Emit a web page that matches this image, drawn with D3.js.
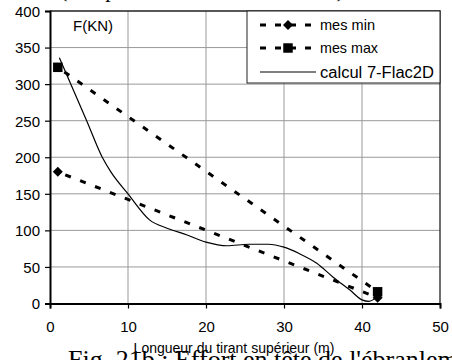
<!DOCTYPE html>
<html><head><meta charset="utf-8">
<script src="https://cdn.jsdelivr.net/npm/d3@7"></script>
<style>body{margin:0;background:#fff}svg{display:block}</style>
</head><body>
<svg id="c" width="452" height="360"></svg>
<script>
const xTicks = [0,10,20,30,40,50];
const yTicks = [0,50,100,150,200,250,300,350,400];
const mesMinX = [1, 42];
const mesMinY = [180, 8];
const mesMaxX = [1, 42];
const mesMaxY = [323, 16];
const calcX = [1.2, 4.7, 6.7, 7.8, 10, 12.8, 15, 17.5, 20, 22.7, 25.5, 28, 30, 32, 34.2, 36.3, 38.5, 40, 40.9, 41.8];
const calcY = [336, 250, 200, 180, 150, 114, 103, 94, 84, 79, 81, 81, 77, 68, 55, 36, 18, 5, 3, 8];
const seriesNames = ["mes min", "mes max", "calcul 7-Flac2D"];

const svg = d3.select("#c");
const L = 50, R = 440, T = 11, B = 303.5;
const x = d3.scaleLinear().domain([0,50]).range([L,R]);
const y = d3.scaleLinear().domain([0,400]).range([B,T]);
const font = "'Liberation Sans', Arial, sans-serif";

// grid
svg.append("g").selectAll("line").data(xTicks.slice(1,-1)).join("line")
  .attr("x1", d=>x(d)).attr("x2", d=>x(d)).attr("y1", T).attr("y2", B)
  .attr("stroke", "#999").attr("stroke-width", 1);
svg.append("g").selectAll("line").data(yTicks.slice(1,-1)).join("line")
  .attr("x1", L).attr("x2", R).attr("y1", d=>y(d)).attr("y2", d=>y(d))
  .attr("stroke", "#999").attr("stroke-width", 1);

svg.append("path").attr("d", `M${L},${T}H${R}V${B}`).attr("fill","none").attr("stroke","#222").attr("stroke-width",1.3);

const xAxis = svg.append("g").attr("transform", `translate(0,${B})`)
  .call(d3.axisBottom(x).tickValues(xTicks).tickSize(5).tickPadding(13).tickFormat(d3.format("d")));
const yAxis = svg.append("g").attr("transform", `translate(${L},0)`)
  .call(d3.axisLeft(y).tickValues(yTicks).tickSize(5).tickPadding(5).tickFormat(d3.format("d")));
[xAxis, yAxis].forEach(a => {
  a.select(".domain").attr("stroke","#000").attr("stroke-width",2);
  a.selectAll(".tick line").attr("stroke","#000").attr("stroke-width",1.2);
  a.selectAll("text").attr("font-family", font).attr("font-size", 15).attr("fill","#000");
});
yAxis.selectAll(".tick text").attr("dy","0.36em");

const line = d3.line().x(d=>x(d[0])).y(d=>y(d[1]));
const minData = mesMinX.map((v,i)=>[v, mesMinY[i]]);
const maxData = mesMaxX.map((v,i)=>[v, mesMaxY[i]]);
const calcData = calcX.map((v,i)=>[v, calcY[i]]);
const dash = "6,10";
svg.append("path").datum(minData).attr("d", line).attr("fill","none")
  .attr("stroke","#000").attr("stroke-width",3).attr("stroke-dasharray",dash).attr("stroke-dashoffset",-8);
svg.append("path").datum(maxData).attr("d", line).attr("fill","none")
  .attr("stroke","#000").attr("stroke-width",3).attr("stroke-dasharray",dash).attr("stroke-dashoffset",-8);
svg.append("path").datum(calcData).attr("d", d3.line().x(d=>x(d[0])).y(d=>y(d[1])).curve(d3.curveMonotoneX)).attr("fill","none")
  .attr("stroke","#000").attr("stroke-width",1.2);

const diamond = d3.symbol().type(d3.symbolSquare).size(50);
const square = d3.symbol().type(d3.symbolSquare).size(90);
svg.append("g").selectAll("path").data(minData).join("path")
  .attr("transform", d=>`translate(${x(d[0])},${y(d[1])}) rotate(45)`).attr("d", diamond).attr("fill","#000");
svg.append("g").selectAll("path").data(maxData).join("path")
  .attr("transform", d=>`translate(${x(d[0])},${y(d[1])})`).attr("d", square).attr("fill","#000");

svg.append("text").attr("x", 73).attr("y", 31).attr("font-family", font).attr("font-size", 15).text("F(KN)");

// legend
const lg = svg.append("g");
lg.append("rect").attr("x", 247).attr("y", T).attr("width", R-247).attr("height", 72)
  .attr("fill","#fff").attr("stroke","#222").attr("stroke-width",1);
const rows = [25, 48, 72];
const widths = [55, 58, 114];
seriesNames.forEach((name,i)=>{
  const yy = rows[i];
  if (i < 2) {
    lg.append("line").attr("x1",260).attr("x2",316).attr("y1",yy).attr("y2",yy)
      .attr("stroke","#000").attr("stroke-width",3).attr("stroke-dasharray","6,9");
    lg.append("path").attr("transform",`translate(288,${yy})` + (i===0?" rotate(45)":"")).attr("d", i===0?diamond:square).attr("fill","#000");
  } else {
    lg.append("line").attr("x1",260).attr("x2",316).attr("y1",yy).attr("y2",yy)
      .attr("stroke","#000").attr("stroke-width",1.2);
  }
  lg.append("text").attr("x",320).attr("y",yy).attr("dy","0.36em")
    .attr("font-family", font).attr("font-size", i===2?16:15)
    .attr("textLength", widths[i]).attr("lengthAdjust","spacingAndGlyphs").text(name);
});

svg.append("text").attr("x", 68).attr("y", 368).attr("font-family","'Liberation Serif', 'Times New Roman', serif")
  .attr("font-size", 26).text("Fig. 21b : Effort en tête de l'ébranlement du tirant");
svg.append("text").attr("x", 234).attr("y", 353).attr("text-anchor","middle").attr("font-family", font)
  .attr("font-size", 14).text("Longueur du tirant supérieur (m)");
svg.append("text").attr("x", 60).attr("y", -3).attr("font-family","'Liberation Serif', serif")
  .attr("font-size", 22).text("(comparaison mesures et calcul)");
</script>
</body></html>
